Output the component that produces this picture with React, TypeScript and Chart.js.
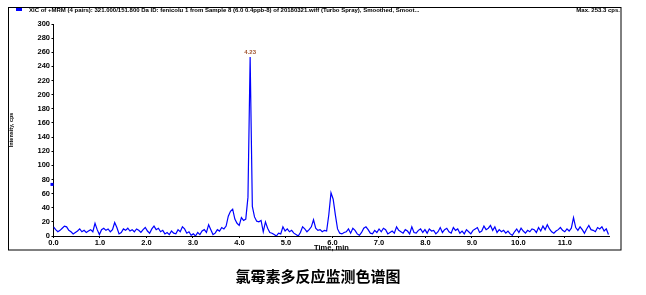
import React, { useEffect, useRef } from "react";
import { Chart, registerables } from "chart.js";

Chart.register(...registerables);

// ---------- data ----------
const SAMPLE_INTERVAL = 0.047; // min between acquisitions
const intensity: number[] = [
  13, 9, 6, 8, 11, 14, 13, 8, 6, 3,
  5, 7, 10, 6, 8, 5, 7, 9, 6, 18,
  9, 2, 9, 11, 8, 10, 6, 9, 19, 12,
  3, 5, 10, 8, 11, 7, 9, 6, 10, 8,
  5, 9, 12, 7, 4, 10, 14, 9, 11, 6,
  8, 3, 5, 2, 7, 4, 3, 9, 6, 13,
  10, 4, 6, 1, 3, 0, 5, 2, 7, 9,
  5, 16, 9, 2, 4, 9, 7, 12, 10, 14,
  28, 35, 38, 24, 18, 15, 26, 22, 24, 55,
  253.3, 42, 27, 21, 20, 22, 6, 20, 11, 5,
  4, 2, 0, 4, 3, 13, 7, 10, 6, 8,
  4, 2, 0, 5, 13, 10, 6, 9, 13, 23,
  11, 8, 9, 6, 8, 7, 30, 61, 52, 30,
  10, 4, 3, 5, 6, 10, 4, 11, 8, 3,
  1, 5, 11, 13, 9, 4, 3, 8, 5, 10,
  6, 11, 9, 3, 5, 7, 4, 13, 8, 6,
  4, 9, 7, 3, 13, 5, 4, 8, 10, 5,
  9, 4, 10, 7, 8, 3, 6, 12, 5, 9,
  11, 6, 4, 12, 8, 10, 4, 7, 3, 9,
  6, 3, 8, 10, 12, 5, 7, 14, 9, 11,
  15, 8, 13, 5, 9, 6, 8, 4, 7, 3,
  1, 6, 10, 5, 11, 7, 4, 8, 6, 10,
  9, 5, 12, 7, 14, 9, 16, 10, 6, 4,
  7, 9, 12, 8, 6, 10, 7, 11, 26, 12,
  8, 13, 9, 4, 10, 15, 9, 8, 6, 12,
  10, 13, 7, 10, 2,
];
const xTicks: number[] = [0, 1, 2, 3, 4, 5, 6, 7, 8, 9, 10, 11];
const yTicks: number[] = [0, 20, 40, 60, 80, 100, 120, 140, 160, 180, 200, 220, 240, 260, 280, 300];
const X_MAX = 11.96;
const Y_MAX = 300;
const MARKER_LEVEL = 73;

const HEADER =
  "XIC of +MRM (4 pairs): 321.000/151.800 Da ID: fenicolu 1 from Sample 8 (6.0 0.4ppb-8) of 20180321.wiff (Turbo Spray), Smoothed, Smoot...";
const X_TITLE = "Time, min";
const Y_TITLE = "Intensity, cps";
const CAPTION = "氯霉素多反应监测色谱图";

const FAMILY = '"Liberation Sans", Arial, sans-serif';

export default function App() {
  const ref = useRef<HTMLCanvasElement>(null);

  useEffect(() => {
    const canvas = ref.current;
    if (!canvas) return;
    const points = intensity.map((v, i) => ({ x: +(i * SAMPLE_INTERVAL).toFixed(3), y: v }));
    let peakIdx = 0;
    intensity.forEach((v, i) => {
      if (v > intensity[peakIdx]) peakIdx = i;
    });

    const decor = {
      id: "decor",
      afterDraw(chart: any) {
        const ctx = chart.ctx as CanvasRenderingContext2D;
        const xs = chart.scales.x;
        const ys = chart.scales.y;
        ctx.save();
        // outer frame
        ctx.strokeStyle = "#000";
        ctx.lineWidth = 1;
        ctx.strokeRect(8.5, 7.5, 612.5, 242.5);
        // legend swatch
        ctx.fillStyle = "#0000ff";
        ctx.fillRect(16, 8, 6, 3);
        // header texts
        ctx.fillStyle = "#000";
        ctx.font = `bold 6px ${FAMILY}`;
        ctx.textBaseline = "middle";
        ctx.textAlign = "left";
        ctx.fillText(HEADER, 29, 10, 421);
        ctx.textAlign = "right";
        ctx.fillText(`Max. ${intensity[peakIdx].toFixed(1)} cps.`, 620, 10);
        // peak label
        const px = xs.getPixelForValue(points[peakIdx].x);
        const py = ys.getPixelForValue(points[peakIdx].y);
        ctx.fillStyle = "#a0522d";
        ctx.textAlign = "center";
        ctx.textBaseline = "bottom";
        ctx.font = `bold 6px ${FAMILY}`;
        ctx.fillText(points[peakIdx].x.toFixed(2), px, py - 1.5);
        // threshold marker on the y axis
        ctx.fillStyle = "#0000ff";
        const my = ys.getPixelForValue(MARKER_LEVEL);
        ctx.fillRect(xs.left - 3, my - 1.5, 3, 3);
        ctx.restore();
      },
    };

    const chart = new Chart(canvas, {
      type: "line",
      data: {
        datasets: [
          {
            data: points,
            borderColor: "#0000ff",
            borderWidth: 1.2,
            pointRadius: 0,
            tension: 0,
            fill: false,
          },
        ],
      },
      options: {
        responsive: false,
        animation: false,
        devicePixelRatio: 1,
        layout: { padding: { left: 0, top: 24, right: 36.5, bottom: 0 } },
        plugins: { legend: { display: false }, tooltip: { enabled: false } },
        scales: {
          x: {
            type: "linear",
            min: 0,
            max: X_MAX,
            afterBuildTicks: (s: any) => {
              s.ticks = xTicks.map((v) => ({ value: v }));
            },
            afterFit: (s: any) => {
              s.height = 59;
            },
            border: { display: true, color: "#000", width: 1 },
            grid: { display: true, drawOnChartArea: false, drawTicks: true, tickLength: 2, color: "#000" },
            ticks: {
              color: "#000",
              font: { size: 7.5, weight: "bold", family: FAMILY },
              padding: 0,
              maxRotation: 0,
              autoSkip: false,
              callback: (v: any) => Number(v).toFixed(1),
            },
            title: {
              display: true,
              text: X_TITLE,
              color: "#000",
              font: { size: 7.5, weight: "bold", family: FAMILY },
              padding: { top: 0, bottom: 42.5 },
            },
          },
          y: {
            type: "linear",
            min: 0,
            max: Y_MAX,
            afterBuildTicks: (s: any) => {
              s.ticks = yTicks.map((v) => ({ value: v }));
            },
            afterFit: (s: any) => {
              s.width = 53.5;
            },
            border: { display: true, color: "#000", width: 1 },
            grid: { display: true, drawOnChartArea: false, drawTicks: true, tickLength: 2, color: "#000" },
            ticks: {
              color: "#000",
              font: { size: 7.5, weight: "bold", family: FAMILY },
              padding: 1.5,
              autoSkip: false,
              callback: (v: any) => String(v),
            },
            title: {
              display: true,
              text: Y_TITLE,
              color: "#000",
              font: { size: 5.5, weight: "bold", family: FAMILY },
              padding: { top: 8.4, bottom: 0 },
            },
          },
        },
      },
      plugins: [decor],
    } as any);

    return () => chart.destroy();
  }, []);

  return (
    <div style={{ position: "absolute", left: 0, top: 0, width: 646, height: 295, background: "#fff" }}>
      <canvas ref={ref} width={646} height={295} style={{ display: "block", width: 646, height: 295 }} />
      <div
        style={{
          position: "absolute",
          left: 0,
          top: 267,
          width: 636,
          textAlign: "center",
          font: 'bold 15px "Noto Sans CJK SC", sans-serif',
          lineHeight: "17px",
          color: "#000",
        }}
      >
        {CAPTION}
      </div>
    </div>
  );
}
